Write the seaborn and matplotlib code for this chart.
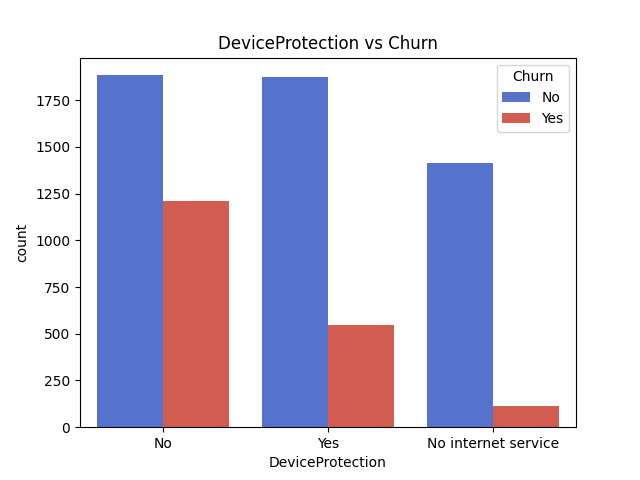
import pandas as pd
import matplotlib
matplotlib.use("Agg")
import matplotlib.pyplot as plt
import seaborn as sns

# Antal kunder pr. DeviceProtection-kategori, delt på Churn
categories = ["No", "Yes", "No internet service"]
churn_no = [1884, 1877, 1413]
churn_yes = [1211, 545, 113]

data = pd.DataFrame({
    "DeviceProtection": categories * 2,
    "Churn": ["No"] * 3 + ["Yes"] * 3,
    "count": churn_no + churn_yes,
})

plt.figure(figsize=(6.4, 4.8), dpi=100)
ax = sns.barplot(
    data=data,
    x="DeviceProtection",
    y="count",
    hue="Churn",
    order=categories,
    hue_order=["No", "Yes"],
    palette=["royalblue", "#e74c3c"],
)
ax.set_title("DeviceProtection vs Churn")
plt.savefig("out.png", dpi=100)
